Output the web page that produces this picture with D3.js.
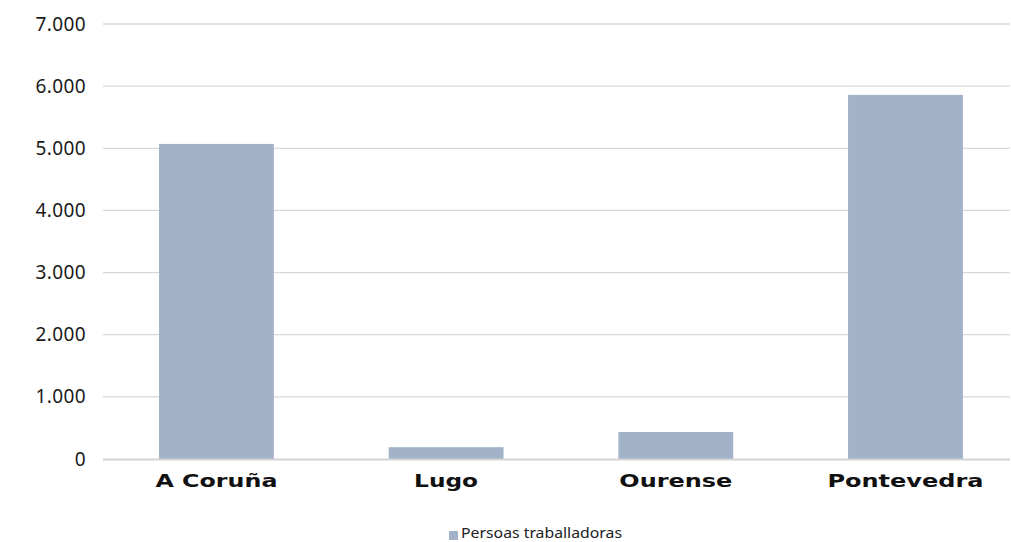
<!DOCTYPE html>
<html><head><meta charset="utf-8">
<script src="https://cdn.jsdelivr.net/npm/d3@7"></script>
<style>body{margin:0;background:#fff}</style>
</head><body>
<svg id="c" width="1011" height="542"></svg>
<script>
const categories = ["A Coruña", "Lugo", "Ourense", "Pontevedra"];
const values = [5070, 190, 435, 5860];
const yTicks = [0, 1000, 2000, 3000, 4000, 5000, 6000, 7000];
const seriesName = "Persoas traballadoras";
const labelWidths = [122, 64, 113, 156];

const svg = d3.select("#c");
const W = 1011, H = 542;
const gridL = 103, gridR = 1010;
const x = d3.scaleBand().domain(categories).range([101.6, 1020.3]).paddingInner(0.5).paddingOuter(0.25);
const y = d3.scaleLinear().domain([0, 7000]).range([459, 24]);
const fmt = v => d3.format(",")(v).replace(/,/g, ".");

// grid
svg.append("g").selectAll("line").data(yTicks.filter(d=>d>0)).join("line")
  .attr("x1", gridL).attr("x2", gridR)
  .attr("y1", d => y(d)).attr("y2", d => y(d))
  .attr("stroke", "#d9d9d9").attr("stroke-width", 1.3);

// y labels
const yAxis = d3.axisLeft(y).tickValues(yTicks).tickFormat(fmt).tickSize(0).tickPadding(17);
const ya = svg.append("g").attr("transform", `translate(${gridL},0)`).call(yAxis);
ya.select(".domain").remove();
ya.selectAll("text").attr("font-family", "Noto Sans, sans-serif").attr("font-size", 19)
  .attr("letter-spacing", 0.4).attr("fill", "#1a1a1a");

// bars
svg.append("g").selectAll("rect").data(values).join("rect")
  .attr("x", (d,i) => x(categories[i])).attr("width", x.bandwidth())
  .attr("y", d => y(d)).attr("height", d => y(0) - y(d))
  .attr("fill", "#a2b2c9");

// x axis line
svg.append("line").attr("x1", gridL).attr("x2", gridR).attr("y1", y(0)+0.5).attr("y2", y(0)+0.5)
  .attr("stroke", "#d4d4d4").attr("stroke-width", 2);

// x labels
const xAxis = d3.axisBottom(x).tickSize(0).tickPadding(0);
const xa = svg.append("g").attr("transform", `translate(0,${y(0)})`).call(xAxis);
xa.select(".domain").remove();
xa.selectAll("text")
  .attr("font-family", "DejaVu Sans, sans-serif").attr("font-weight", "bold").attr("font-size", 18)
  .attr("dy", 0).attr("y", 28).attr("fill", "#111")
  .attr("textLength", (d,i) => labelWidths[i]).attr("lengthAdjust", "spacingAndGlyphs");

// legend
const lg = svg.append("g");
lg.append("rect").attr("x", 449).attr("y", 531).attr("width", 9).attr("height", 9).attr("fill", "#a2b2c9");
lg.append("text").attr("x", 461).attr("y", 538).text(seriesName)
  .attr("font-family", "Noto Sans, sans-serif").attr("font-size", 14.5).attr("fill", "#222")
  .attr("textLength", 161).attr("lengthAdjust", "spacingAndGlyphs");
</script>
</body></html>
